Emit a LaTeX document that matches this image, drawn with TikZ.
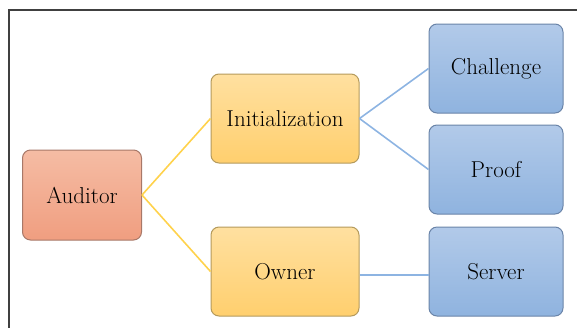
\documentclass[tikz,border=0pt]{standalone}
\usetikzlibrary{positioning}
\definecolor{audtop}{HTML}{F5BCA4}
\definecolor{audbot}{HTML}{F09E80}
\definecolor{audline}{HTML}{A87868}
\definecolor{midtop}{HTML}{FFE0A0}
\definecolor{midbot}{HTML}{FFCF6E}
\definecolor{midline}{HTML}{B49A5C}
\definecolor{leaftop}{HTML}{B2CAE9}
\definecolor{leafbot}{HTML}{8FB3DF}
\definecolor{leafline}{HTML}{6A84A8}
\definecolor{yellowlink}{HTML}{FFD24C}
\definecolor{bluelink}{HTML}{8DB4E2}
\definecolor{framegray}{HTML}{404040}

\begin{document}
\begin{tikzpicture}[x=1pt,y=-1pt]
\tikzstyle{box}=[rectangle,rounded corners=8pt,
  line width=1pt,text=black,
  font=\rmfamily\fontsize{23pt}{27pt}\selectfont,
  inner sep=0pt
]

\tikzstyle{audbox}=[box,draw=audline,
  top color=audtop,bottom color=audbot,
  minimum width=119pt,
  minimum height=90pt
]

\tikzstyle{midbox}=[box,draw=midline,
  top color=midtop,bottom color=midbot,
  minimum width=148pt,
  minimum height=89pt
]

\tikzstyle{leafbox}=[box,draw=leafline,
  top color=leaftop,bottom color=leafbot,
  minimum width=134pt,
  minimum height=89pt
]

\tikzstyle{link}=[line width=1.6pt]

\useasboundingbox (0,0) rectangle (577,327);
\draw[framegray,line width=2pt] (9,330) -- (9,10) -- (580,10);

\node[audbox]  (Aud)   at (82,195)    {Auditor};
\node[midbox]  (Init)  at (285,118.5) {Initialization};
\node[midbox]  (Own)   at (285,271.5) {Owner};
\node[leafbox] (Chal)  at (496,68.5)  {Challenge};
\node[leafbox] (Proof) at (496,169.5) {Proof};
\node[leafbox] (Serv)  [right=69pt of Own] {Server};

\draw[link,yellowlink] (Aud.east) -- (Init.west);
\draw[link,yellowlink] (Aud.east) -- (Own.west);
\draw[link,bluelink] (Init.east) -- (Chal.west);
\draw[link,bluelink] (Init.east) -- (Proof.west);
\draw[link,bluelink,line width=2pt] ([yshift=-3.5pt]Own.east) -- ([yshift=-3.5pt]Serv.west);
\end{tikzpicture}
\end{document}
